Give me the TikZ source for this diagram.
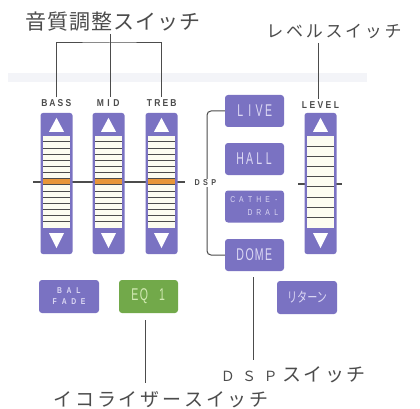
\documentclass[tikz,border=0pt]{standalone}
\usepackage{fontspec}
\setmainfont{Liberation Sans}
\newfontfamily\jp{Noto Sans CJK JP}
\usetikzlibrary{calc}
\definecolor{btn}{HTML}{7A72C2}
\definecolor{btntxt}{HTML}{DCD8F4}
\definecolor{eqg}{HTML}{72A94A}
\definecolor{eqtxt}{HTML}{D2EAB4}
\definecolor{org}{HTML}{E8963A}
\definecolor{cream}{HTML}{FCFCF0}
\definecolor{ln}{HTML}{4C4C4C}
\definecolor{band}{HTML}{F3F4F8}
\makeatletter
\newcommand\spl[3][1]{\@tfor\@ch:=#3\do{\makebox[#2]{\scalebox{#1}[1]{\@ch}}}}
\makeatother
\tikzset{
  leader/.style={draw=ln, line width=1pt},
  midline/.style={draw=ln, line width=1.6pt},
  rowsep/.style={draw=ln, line width=0.9pt},
  colbox/.style={fill=btn, rounded corners=2.5pt, minimum width=32pt, minimum height=141pt, inner sep=0pt},
  btnbox/.style={fill=btn, rounded corners=3pt, minimum width=59pt, minimum height=32pt, inner sep=0pt, text=btntxt},
  lbl/.style={inner sep=2pt, text=ln, font=\fontsize{10}{10}\selectfont\bfseries},
  jptext/.style={inner sep=0pt, text=ln}
}
\newcommand\eqcol[4]{% name, x, rows, orange row
  \node[colbox] (#1) at (#2,183.5) {};
  \pgfmathsetmacro\rh{92/#3}
  \pgfmathsetmacro\oy{23+(#4-1)*\rh}
  \fill[cream] ($(#1.north west)+(2.5,23)$) rectangle ($(#1.south east)+(-2.5,-26)$);
  \ifnum#4>0
    \fill[org] ($(#1.north west)+(2.5,\oy)$) rectangle ++(27,\rh);
  \fi
  \pgfmathtruncatemacro\nm{#3-1}
  \foreach \i in {1,...,\nm}{
    \pgfmathsetmacro\ry{23+\i*\rh}
    \draw[rowsep] ($(#1.north west)+(2.5,\ry)$) -- ++(27,0);
  }
  \fill[white] ($(#1.north)+(-7.5,19)$) -- ++(15,0) -- ++(-7.5,-14) -- cycle;
  \fill[white] ($(#1.south)+(-7.5,-21)$) -- ++(15,0) -- ++(-7.5,15) -- cycle;
}
\begin{document}
\begin{tikzpicture}[x=1pt,y=-1pt]
\useasboundingbox (0,0) rectangle (420,409);
\fill[white] (0,0) rectangle (420,409);
\fill[band] (8,73) rectangle (367,82);

% titles
\node[jptext, font=\fontsize{21}{21}\jp] (title) at (113,22) {\spl{22pt}{音質調整スイッチ}};
\node[jptext, font=\fontsize{17}{17}\jp] (lvtitle) at (334,31) {\spl{19.7pt}{レベルスイッチ}};

% slider labels
\node[lbl] (bassl) at (56.5,103) {\spl[0.85]{8pt}{BASS}};
\node[lbl] (midl) at (108.5,103) {\spl[0.85]{8pt}{MID}};
\node[lbl] (trebl) at (161.5,103) {\spl[0.85]{8pt}{TREB}};
\node[lbl] (levell) at (320.5,105) {\spl[0.85]{8pt}{LEVEL}};

% centre lines behind sliders
\coordinate (cl) at (33,182);
\coordinate (cr) at (185,182);
\draw[midline] (cl) -- (cr);
\coordinate (ll) at (298,184);
\coordinate (lr) at (342,184);
\draw[midline] (ll) -- (lr);

% sliders
\eqcol{bass}{56.5}{15}{8}
\eqcol{mid}{108.5}{15}{8}
\eqcol{treb}{161.5}{15}{8}
\eqcol{level}{320.5}{9}{0}

% bracket from title
\coordinate (tbar) at (110,43);
\coordinate (ttop) at (110,34);
\draw[leader] (bassl.north) |- (tbar) -| (trebl.north);
\draw[leader] (ttop) -- (ttop |- midl.north);
\coordinate (lvtop) at (318,43);
\draw[leader] (lvtop) -- (lvtop |- levell.north);

% DSP buttons
\node[btnbox, font=\fontsize{17}{17}\selectfont] (live) at (254.5,111) {\spl[0.62]{9.5pt}{LIVE}};
\node[btnbox, font=\fontsize{17}{17}\selectfont] (hall) at (254.5,159) {\spl[0.62]{9.5pt}{HALL}};
\node[btnbox, font=\fontsize{8.5}{13}\selectfont, align=right] (cath) at (254.5,206.5) {\spl[0.8]{8.7pt}{CATHE-}\\\spl[0.8]{8.7pt}{DRAL}};
\node[btnbox, font=\fontsize{17}{17}\selectfont] (dome) at (254.5,255) {\spl[0.62]{9.5pt}{DOME}};

\coordinate (dspv) at (207,183);
\draw[leader, rounded corners=4pt] (live.west) -| (dspv) |- (dome.west);
\node[lbl, fill=white, inner sep=1pt, font=\fontsize{8.5}{9}\selectfont\bfseries] (dspl) at (205.5,183) {\spl[0.85]{8.3pt}{DSP}};

% bottom buttons
\node[btnbox, minimum width=60pt, minimum height=33pt, font=\fontsize{8.5}{11}\selectfont\bfseries, align=center] (bal) at (69,296.5) {\spl[0.8]{9.5pt}{BAL}\\\spl[0.8]{9.5pt}{FADE}};
\node[btnbox, fill=eqg, text=eqtxt, minimum height=33pt, font=\fontsize{17}{17}\selectfont] (eq) at (148.5,296.5) {\spl[0.62]{9pt}{EQ~1}};
\node[btnbox, minimum width=60pt, minimum height=33pt, font=\fontsize{14}{14}\jp] (ret) at (307,297.5) {\scalebox{0.72}[1]{リターン}};

% leaders to bottom labels
\coordinate (eqend) at (145,383);
\draw[leader, shorten <=7pt] (eqend |- eq.south) -- (eqend);
\coordinate (dspend) at (253,360);
\draw[leader, shorten <=6pt] (dspend |- dome.south) -- (dspend);

\node[jptext, font=\fontsize{19}{19}\jp] (dspsw) at (292,375) {\fontsize{14}{14}\selectfont\spl{21.4pt}{ＤＳＰ}\fontsize{19}{19}\selectfont\spl{21.4pt}{スイッチ}};
\node[jptext, font=\fontsize{19}{19}\jp] (eqsw) at (161,400) {\spl{21.8pt}{イコライザースイッチ}};
\end{tikzpicture}
\end{document}
